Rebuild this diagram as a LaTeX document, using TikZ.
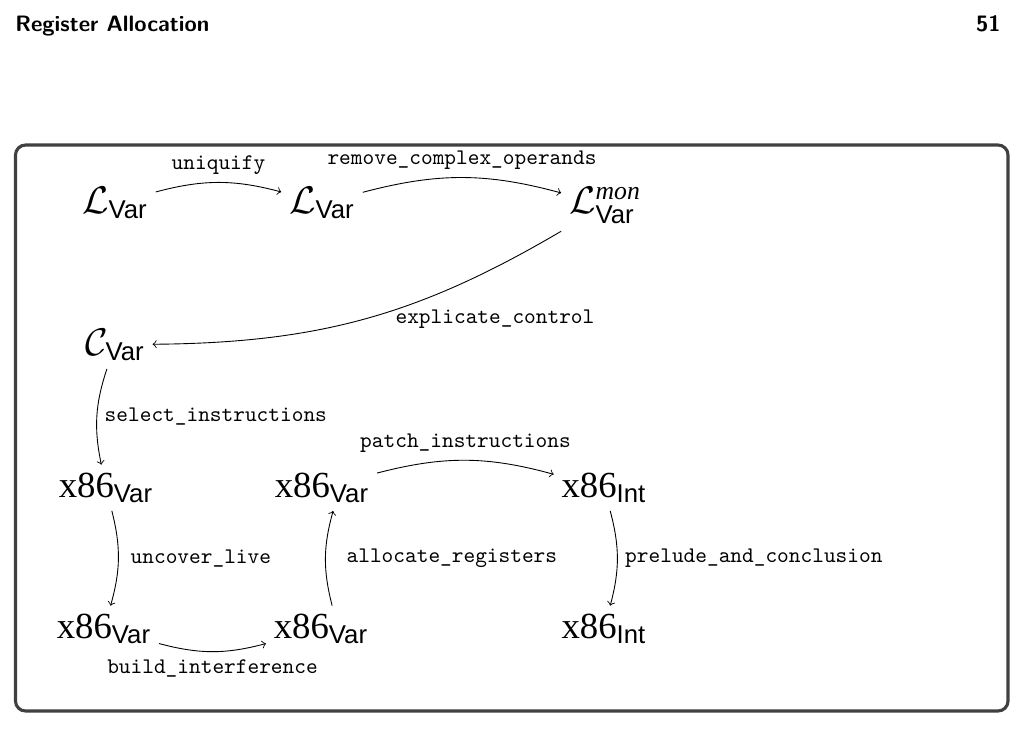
\documentclass[tikz,border=0pt]{standalone}
\usepackage{amsmath}
\usepackage{fontspec}
\newfontfamily\timesfont{Liberation Serif}
\newfontfamily\arialfont{Liberation Sans}
\newcommand{\Vsub}{\text{\arialfont Var}}
\newcommand{\LangVar}{$\mathcal{L}_{\Vsub}$}
\newcommand{\LangVarMon}{$\mathcal{L}^{\text{\timesfont\itshape mon}}_{\Vsub}$}
\newcommand{\LangCVar}{$\mathcal{C}_{\Vsub}$}
\newcommand{\LangXVar}{{\timesfont x86}$_{\Vsub}$}
\newcommand{\LangXInt}{{\timesfont x86}$_{\text{\arialfont Int}}$}
\usetikzlibrary{calc}

\begin{document}
\begin{tikzpicture}[x=0.449pt, y=-0.449pt,
  lang/.style={anchor=base, font=\fontsize{16.5}{19}\selectfont},
  pass/.style={->},
  passname/.style={font=\ttfamily}]
\useasboundingbox (0,0) rectangle (1025,730);

% page header and frame
\node[anchor=base west, inner sep=0, font=\sffamily\bfseries] (title) at (15,31) {Register Allocation};
\node[anchor=base east, inner sep=0, font=\sffamily\bfseries] (page) at (1001,31) {51};
\draw[line width=1.4pt, draw=black!75, rounded corners=4.5pt] (15.5,145) rectangle (1008,711);

% languages
\path (115,213) node[lang] (Lvar) {\LangVar};
\path (322,213) node[lang] (Lvar-2) {\LangVar};
\path (605,213) node[lang] (Lvar-3) {\LangVarMon};
\path (115,355) node[lang] (Cvar-1) {\LangCVar};
\path (106,497) node[lang] (x86-1) {\LangXVar};
\path (322,497) node[lang] (x86-3) {\LangXVar};
\path (604,497) node[lang] (x86-4) {\LangXInt};
\path (104,638) node[lang] (x86-2) {\LangXVar};
\path (321,638) node[lang] (x86-2-1) {\LangXVar};
\path (604,638) node[lang] (x86-5) {\LangXInt};

% passes
\draw[pass] (Lvar) to[bend left=15] node[above, passname] {uniquify} (Lvar-2);
\draw[pass] (Lvar-2) to[bend left=15] node[above, passname] {remove\_complex\_operands} (Lvar-3);
\draw[pass] (Lvar-3) to[bend left=15] node[midway, right, xshift=10pt, passname] {explicate\_control} (Cvar-1);
\draw[pass] (Cvar-1) to[bend right=15] node[right, passname] {select\_instructions} (x86-1);
\draw[pass] (x86-1) to[bend left=15] node[right, xshift=2pt, passname] {uncover\_live} (x86-2);
\draw[pass] (x86-2) to[bend right=15] node[below, passname] {build\_interference} (x86-2-1);
\draw[pass] ([xshift=5pt]x86-2-1.north) to[bend left=15] node[right, xshift=6pt, passname] {allocate\_registers} ([xshift=5pt]x86-3.south);
\draw[pass] (x86-3) to[bend left=15] node[above, passname] {patch\_instructions} (x86-4);
\draw[pass] (x86-4) to[bend left=15] node[right, passname] {prelude\_and\_conclusion} (x86-5);
\end{tikzpicture}
\end{document}
